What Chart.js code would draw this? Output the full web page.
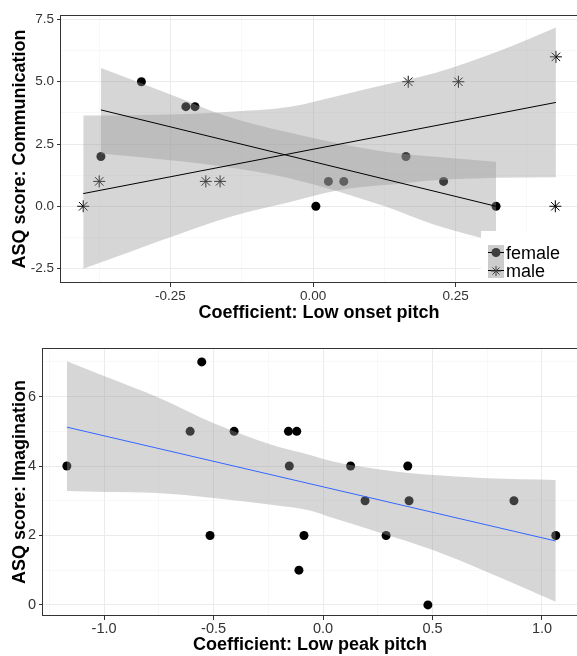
<!DOCTYPE html>
<html lang="en">
<head>
    <meta charset="UTF-8">
    <title>ASQ score vs pitch coefficients</title>
    <script src="https://cdn.jsdelivr.net/npm/chart.js@4"></script>
    <style>
        html, body { margin: 0; padding: 0; background: #fff; }
        .chart-box { position: absolute; left: 0; width: 577px; }
        #topBox { top: 0; height: 330px; }
        #bottomBox { top: 330px; height: 326px; }
    </style>
</head>
<body>
    <div class="chart-box" id="topBox"><canvas id="onsetChart"></canvas></div>
    <div class="chart-box" id="bottomBox"><canvas id="peakChart"></canvas></div>

    <script>
        // --- top panel: Communication vs low onset pitch ---
        const femaleX = [-0.372, -0.301, -0.223, -0.207, 0.005, 0.027, 0.054, 0.163, 0.229, 0.321];
        const femaleY = [2, 5, 4, 4, 0, 1, 1, 2, 1, 0];
        const maleX = [-0.403, -0.375, -0.188, -0.163, 0.167, 0.255, 0.426, 0.425];
        const maleY = [0, 1, 1, 1, 5, 5, 6, 0];

        const femaleFitX = [-0.372, 0.321];
        const femaleFitY = [3.87, 0.0];
        const maleFitX = [-0.403, 0.426];
        const maleFitY = [0.51, 4.17];

        const femaleBandX = [-0.372, -0.233, -0.158, -0.040, 0.126, 0.214, 0.321];
        const femaleBandHi = [5.55, 4.34, 3.67, 2.95, 2.19, 1.99, 1.79];
        const femaleBandLo = [2.12, 1.81, 1.60, 1.12, 0.00, -0.75, -1.42];

        const maleBandX = [-0.403, -0.233, -0.146, -0.040, 0.047, 0.126, 0.214, 0.323, 0.426];
        const maleBandHi = [3.64, 3.70, 3.80, 4.00, 4.45, 4.88, 5.35, 6.20, 7.18];
        const maleBandLo = [-2.51, -1.10, -0.43, 0.17, 0.65, 0.85, 1.05, 1.15, 1.17];

        const onsetXMajor = [-0.25, 0, 0.25];
        const onsetXLabels = ['-0.25', '0.00', '0.25'];
        const onsetXMinor = [-0.375, -0.125, 0.125, 0.375];
        const onsetYMajor = [-2.5, 0, 2.5, 5, 7.5];
        const onsetYLabels = ['-2.5', '0.0', '2.5', '5.0', '7.5'];
        const onsetYMinor = [-1.25, 1.25, 3.75, 6.25];

        // --- bottom panel: Imagination vs low peak pitch ---
        const peakX = [-1.170, -0.607, -0.554, -0.516, -0.406, -0.158, -0.154, -0.120, -0.110, -0.087,
                       0.126, 0.192, 0.288, 0.387, 0.393, 0.479, 0.872, 1.063];
        const peakY = [4, 5, 7, 2, 5, 5, 4, 5, 1, 2, 4, 3, 2, 4, 3, 0, 3, 2];

        const peakFitX = [-1.170, 1.063];
        const peakFitY = [5.12, 1.84];

        const peakBandX = [-1.170, -0.986, -0.758, -0.502, -0.228, -0.059, 0.046, 0.260, 0.502, 0.749, 1.063];
        const peakBandHi = [7.02, 6.56, 5.99, 5.24, 4.60, 4.32, 4.13, 3.90, 3.74, 3.65, 3.60];
        const peakBandLo = [3.28, 3.25, 3.22, 3.08, 2.88, 2.72, 2.50, 2.08, 1.58, 0.95, 0.09];

        const peakXMajor = [-1, -0.5, 0, 0.5, 1];
        const peakXLabels = ['-1.0', '-0.5', '0.0', '0.5', '1.0'];
        const peakXMinor = [-1.25, -0.75, -0.25, 0.25, 0.75];
        const peakYMajor = [0, 2, 4, 6];
        const peakYLabels = ['0', '2', '4', '6'];
        const peakYMinor = [1, 3, 5, 7];

        const FONT = '"Liberation Sans", Arial, sans-serif';
        const BAND = 'rgba(153, 153, 153, 0.4)';

        const toPoints = (xs, ys) => xs.map((x, i) => ({ x: x, y: ys[i] }));
        const near = (a, b) => Math.abs(a - b) < 1e-9;

        function axis(o) {
            const isMajor = v => o.major.some(m => near(m, v));
            return {
                type: 'linear',
                min: o.min,
                max: o.max,
                afterBuildTicks: s => {
                    s.ticks = o.major.concat(o.minor).sort((a, b) => a - b).map(v => ({ value: v }));
                },
                afterFit: s => {
                    if (o.isX) s.height = o.size; else s.width = o.size;
                },
                ticks: {
                    autoSkip: false,
                    maxRotation: 0,
                    padding: o.tickPad,
                    color: '#333',
                    font: { family: FONT, size: o.fontSize },
                    callback: v => {
                        const i = o.major.findIndex(m => near(m, v));
                        return i < 0 ? '' : o.labels[i];
                    }
                },
                grid: {
                    color: c => isMajor(c.tick.value) ? '#ebebeb' : '#f4f4f4',
                    lineWidth: c => isMajor(c.tick.value) ? 1 : 0.6,
                    tickLength: 4,
                    tickColor: c => isMajor(c.tick.value) ? '#333' : 'rgba(0,0,0,0)'
                },
                border: { display: false },
                title: {
                    display: true,
                    text: o.title,
                    color: '#000',
                    font: { family: FONT, size: 18, weight: 'bold' },
                    padding: o.isX ? { top: 0, bottom: o.titlePad } : { top: o.titlePad, bottom: 0 }
                }
            };
        }

        function bandSets(xs, hi, lo) {
            const base = { borderColor: 'transparent', borderWidth: 0, pointRadius: 0, cubicInterpolationMode: 'monotone', order: 2 };
            return [
                Object.assign({ data: toPoints(xs, hi), fill: false }, base),
                Object.assign({ data: toPoints(xs, lo), fill: '-1', backgroundColor: BAND }, base)
            ];
        }

        function fitSet(xs, ys, color) {
            return { data: toPoints(xs, ys), borderColor: color, borderWidth: 1, pointRadius: 0, fill: false, order: 1 };
        }

        function pointSet(xs, ys, style) {
            const ds = { data: toPoints(xs, ys), showLine: false, order: 3, pointStyle: style };
            if (style === 'star') {
                ds.pointRadius = 6;
                ds.pointBorderColor = '#000';
                ds.pointBorderWidth = 1;
            } else {
                ds.pointRadius = 4.5;
                ds.pointBackgroundColor = '#000';
                ds.pointBorderWidth = 0;
            }
            return ds;
        }

        const panelBorder = {
            id: 'panelBorder',
            afterDraw(chart) {
                const { ctx, chartArea: a } = chart;
                ctx.save();
                ctx.strokeStyle = '#333';
                ctx.lineWidth = 1;
                ctx.strokeRect(Math.round(a.left) - 0.5, Math.round(a.top) + 0.5,
                               Math.round(a.right - a.left) + 2, Math.round(a.bottom - a.top) - 1);
                ctx.restore();
            }
        };

        // ggplot style legend in the lower right corner of the top panel
        const sexLegend = {
            id: 'sexLegend',
            afterDatasetsDraw(chart) {
                const { ctx, chartArea: a } = chart;
                const x0 = a.right - 96, y0 = a.bottom - 52;
                ctx.save();
                ctx.fillStyle = '#fff';
                ctx.fillRect(x0, y0, 96, 52);
                ctx.fillStyle = 'rgba(153, 153, 153, 0.5)';
                ctx.fillRect(x0 + 7, y0 + 14, 16, 33);

                ctx.strokeStyle = '#000';
                ctx.lineWidth = 1;
                ctx.beginPath();
                ctx.moveTo(x0 + 7, y0 + 21.5); ctx.lineTo(x0 + 23, y0 + 21.5);
                ctx.moveTo(x0 + 7, y0 + 39.5); ctx.lineTo(x0 + 23, y0 + 39.5);
                ctx.stroke();

                ctx.fillStyle = '#3d3d3d';
                ctx.beginPath();
                ctx.arc(x0 + 15, y0 + 21.5, 4.5, 0, Math.PI * 2);
                ctx.fill();

                ctx.strokeStyle = '#3d3d3d';
                ctx.beginPath();
                const cx = x0 + 15, cy = y0 + 40, r = 5;
                for (let k = 0; k < 4; k++) {
                    const ang = k * Math.PI / 4;
                    ctx.moveTo(cx - r * Math.cos(ang), cy - r * Math.sin(ang));
                    ctx.lineTo(cx + r * Math.cos(ang), cy + r * Math.sin(ang));
                }
                ctx.stroke();

                ctx.fillStyle = '#000';
                ctx.font = '18px ' + FONT;
                ctx.textBaseline = 'alphabetic';
                ctx.fillText('female', x0 + 25, y0 + 28);
                ctx.fillText('male', x0 + 25, y0 + 46);
                ctx.restore();
            }
        };

        const commonOpts = {
            responsive: true,
            maintainAspectRatio: false,
            animation: false,
            events: [],
            plugins: { legend: { display: false }, tooltip: { enabled: false } }
        };

        new Chart(document.getElementById('onsetChart'), {
            type: 'line',
            data: {
                datasets: [
                    fitSet(femaleFitX, femaleFitY, '#000'),
                    fitSet(maleFitX, maleFitY, '#000'),
                    ...bandSets(femaleBandX, femaleBandHi, femaleBandLo),
                    ...bandSets(maleBandX, maleBandHi, maleBandLo),
                    pointSet(femaleX, femaleY, 'circle'),
                    pointSet(maleX, maleY, 'star')
                ]
            },
            options: Object.assign({}, commonOpts, {
                layout: { autoPadding: false, padding: { top: 15, left: 0, right: 0, bottom: 0 } },
                scales: {
                    x: axis({ isX: true, min: -0.442, max: 0.463, major: onsetXMajor, labels: onsetXLabels, minor: onsetXMinor,
                              size: 47, fontSize: 13.5, tickPad: 1, title: 'Coefficient: Low onset pitch', titlePad: 6 }),
                    y: axis({ isX: false, min: -3.08, max: 7.68, major: onsetYMajor, labels: onsetYLabels, minor: onsetYMinor,
                              size: 61, fontSize: 13.5, tickPad: 3, title: 'ASQ score: Communication', titlePad: 9 })
                }
            }),
            plugins: [sexLegend, panelBorder]
        });

        new Chart(document.getElementById('peakChart'), {
            type: 'line',
            data: {
                datasets: [
                    fitSet(peakFitX, peakFitY, '#3366FF'),
                    ...bandSets(peakBandX, peakBandHi, peakBandLo),
                    pointSet(peakX, peakY, 'circle')
                ]
            },
            options: Object.assign({}, commonOpts, {
                layout: { autoPadding: false, padding: { top: 18, left: 0, right: 0, bottom: 0 } },
                scales: {
                    x: axis({ isX: true, min: -1.279, max: 1.160, major: peakXMajor, labels: peakXLabels, minor: peakXMinor,
                              size: 40, fontSize: 14.5, tickPad: 0, title: 'Coefficient: Low peak pitch', titlePad: 0 }),
                    y: axis({ isX: false, min: -0.32, max: 7.40, major: peakYMajor, labels: peakYLabels, minor: peakYMinor,
                              size: 43, fontSize: 14.5, tickPad: 3, title: 'ASQ score: Imagination', titlePad: 9 })
                }
            }),
            plugins: [panelBorder]
        });
    </script>
</body>
</html>
